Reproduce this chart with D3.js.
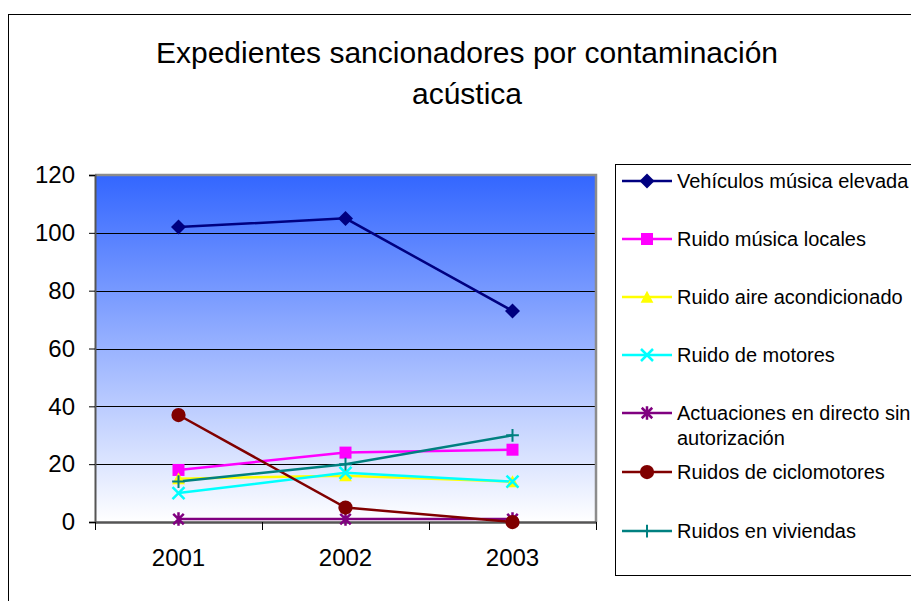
<!DOCTYPE html>
<html><head><meta charset="utf-8">
<script src="https://cdn.jsdelivr.net/npm/d3@7"></script>
<style>body{margin:0;background:#fff}svg{display:block}text{font-family:"Liberation Sans",Arial,sans-serif}</style>
</head><body><svg id="c" width="911" height="601"></svg>
<script>
const categories = ["2001","2002","2003"];
const seriesNames = ["Vehículos música elevada","Ruido música locales","Ruido aire acondicionado","Ruido de motores","Actuaciones en directo sin autorización","Ruidos de ciclomotores","Ruidos en viviendas"];
const vehiculos = [102,105,73];
const musicaLocales = [18,24,25];
const aireAcond = [15,16,14];
const motores = [10,17,14];
const actuaciones = [1,1,1];
const ciclomotores = [37,5,0];
const viviendas = [14,20,30];
const yTicks = [0,20,40,60,80,100,120];
const title = ["Expedientes sancionadores por contaminación","acústica"];

const seriesValues = [vehiculos,musicaLocales,aireAcond,motores,actuaciones,ciclomotores,viviendas];
const colors = ["#000080","#FF00FF","#FFFF00","#00FFFF","#800080","#800000","#008080"];
const markers = ["diamond","square","triangle","x","star","circle","plus"];
const FONT = "Liberation Sans, Arial, sans-serif";

const svg = d3.select("#c");
svg.append("rect").attr("x",8.5).attr("y",14.5).attr("width",1000).attr("height",700)
  .attr("fill","#fff").attr("stroke","#000").attr("stroke-width",1);

svg.selectAll("text.title").data(title).join("text")
  .attr("x",467).attr("y",(d,i)=>63+i*41).attr("text-anchor","middle")
  .attr("font-size",30).attr("fill","#000").text(d=>d);

const L=95,R=596,T=175,B=522;
const x = d3.scaleBand().domain(categories).range([L,R]);
const y = d3.scaleLinear().domain([0,120]).range([B,T]);

const defs = svg.append("defs");
const g = defs.append("linearGradient").attr("id","bg").attr("x1",0).attr("y1",0).attr("x2",0).attr("y2",1);
g.append("stop").attr("offset","0%").attr("stop-color","#3366FF");
g.append("stop").attr("offset","100%").attr("stop-color","#FFFFFF");
svg.append("rect").attr("x",L).attr("y",T).attr("width",R-L).attr("height",B-T).attr("fill","url(#bg)");

svg.append("g").selectAll("line").data(yTicks.filter(d=>d>0 && d<120)).join("line")
  .attr("x1",L).attr("x2",R).attr("y1",d=>Math.round(y(d))+0.5).attr("y2",d=>Math.round(y(d))+0.5)
  .attr("stroke","#000").attr("stroke-width",1);

svg.append("path").attr("d",`M${L},${T} H${R} V${B}`).attr("fill","none").attr("stroke","#8c8c8c").attr("stroke-width",2.5);

const yAxis = d3.axisLeft(y).tickValues(yTicks).tickSize(6).tickPadding(14).tickFormat(d3.format("d"));
const ya = svg.append("g").attr("transform",`translate(${L},0)`).call(yAxis);
ya.select(".domain").attr("stroke","#555").attr("stroke-width",2);
ya.selectAll(".tick line").attr("stroke","#000");
ya.selectAll("text").attr("font-size",24).attr("fill","#000").attr("font-family",FONT);

const xPos = d3.scaleLinear().domain([0,3]).range([L,R]);
const xAxis = d3.axisBottom(x).tickSize(0).tickPadding(27);
const xa = svg.append("g").attr("transform",`translate(0,${B})`).call(xAxis);
xa.select(".domain").attr("stroke","#555").attr("stroke-width",2.5);
xa.selectAll("text").attr("font-size",24).attr("fill","#000").attr("font-family",FONT);
svg.append("g").selectAll("line").data([0,1,2,3]).join("line")
  .attr("x1",d=>Math.round(xPos(d))+0.5).attr("x2",d=>Math.round(xPos(d))+0.5)
  .attr("y1",B).attr("y2",B+8).attr("stroke","#000");

function drawMarker(sel,type,color,size){
  const s=size;
  if(type==="diamond") sel.append("path").attr("d",`M0,${-s} L${s},0 L0,${s} L${-s},0Z`).attr("fill",color);
  else if(type==="square") sel.append("rect").attr("x",-s*0.8).attr("y",-s*0.8).attr("width",s*1.6).attr("height",s*1.6).attr("fill",color);
  else if(type==="triangle") sel.append("path").attr("d",`M0,${-s*0.85} L${s*0.85},${s*0.75} L${-s*0.85},${s*0.75}Z`).attr("fill",color);
  else if(type==="circle") sel.append("circle").attr("r",s*0.95).attr("fill",color);
  else if(type==="x") sel.append("path").attr("d",`M${-s*0.8},${-s*0.8} L${s*0.8},${s*0.8} M${-s*0.8},${s*0.8} L${s*0.8},${-s*0.8}`).attr("stroke",color).attr("stroke-width",2.5);
  else if(type==="star") sel.append("path").attr("d",`M${-s*0.7},${-s*0.7} L${s*0.7},${s*0.7} M${-s*0.7},${s*0.7} L${s*0.7},${-s*0.7} M0,${-s*0.9} V${s*0.9}`).attr("stroke",color).attr("stroke-width",2.5);
  else if(type==="plus") sel.append("path").attr("d",`M${-s*0.85},0 H${s*0.85} M0,${-s*0.85} V${s*0.85}`).attr("stroke",color).attr("stroke-width",2);
}

const line = d3.line().x((d,i)=>x(categories[i])+x.bandwidth()/2).y(d=>y(d));
seriesValues.forEach((vals,si)=>{
  svg.append("path").datum(vals).attr("d",line).attr("fill","none").attr("stroke",colors[si]).attr("stroke-width",2.5);
});
seriesValues.forEach((vals,si)=>{
  vals.forEach((v,i)=>{
    const m = svg.append("g").attr("transform",`translate(${x(categories[i])+x.bandwidth()/2},${y(v)})`);
    drawMarker(m,markers[si],colors[si],7.5);
  });
});

svg.append("rect").attr("x",615.5).attr("y",164.5).attr("width",400).attr("height",411)
  .attr("fill","#fff").attr("stroke","#000").attr("stroke-width",1);
const legY = [181,239,297,355,413,472,531];
seriesNames.forEach((name,si)=>{
  const gy = legY[si];
  svg.append("line").attr("x1",622).attr("x2",672).attr("y1",gy).attr("y2",gy).attr("stroke",colors[si]).attr("stroke-width",2.5);
  const m = svg.append("g").attr("transform",`translate(647,${gy})`);
  drawMarker(m,markers[si],colors[si],7.5);
  const t = svg.append("text").attr("x",677).attr("y",gy+7).attr("font-size",20).attr("fill","#000");
  if(si===4){
    t.text("Actuaciones en directo sin");
    svg.append("text").attr("x",677).attr("y",gy+32).attr("font-size",20).attr("fill","#000").text("autorización");
  } else t.text(name);
});
</script></body></html>
